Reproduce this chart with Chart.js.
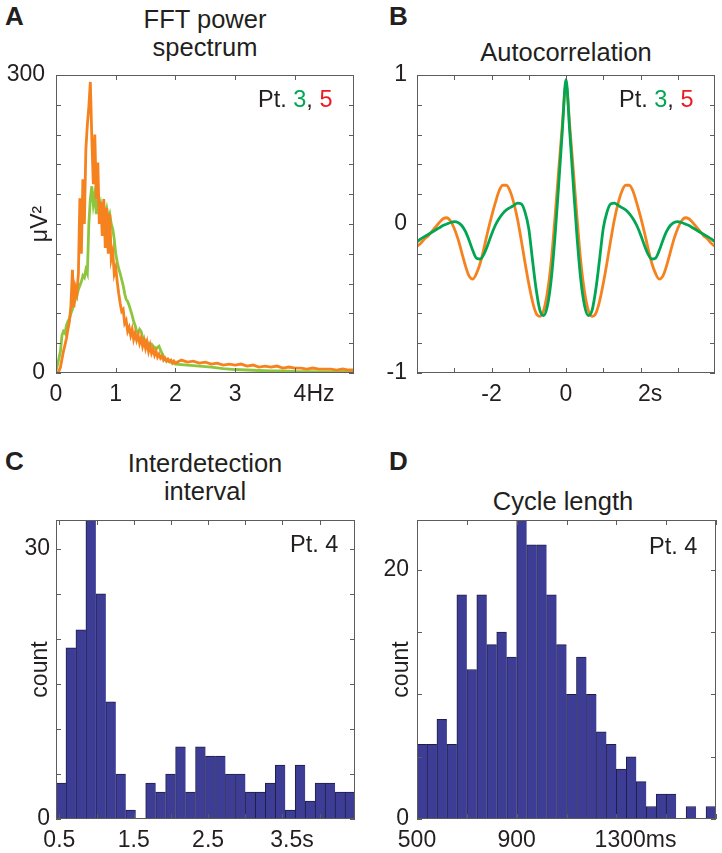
<!DOCTYPE html>
<html>
<head>
<meta charset="utf-8">
<script src="https://cdn.jsdelivr.net/npm/chart.js@4.4.1/dist/chart.umd.min.js"></script>
<style>
  body { margin: 0; background: #fff; }
  #fig { position: relative; width: 722px; height: 853px; font-family: "Liberation Sans", Arial, sans-serif; color: #231f20; overflow: hidden; }
  canvas { position: absolute; }
  .lbl { position: absolute; font-weight: bold; font-size: 26px; line-height: 26px; }
  .ttl { position: absolute; width: 400px; font-size: 25.5px; line-height: 28px; text-align: center; }
  .pt { position: absolute; font-size: 23.5px; line-height: 23.5px; white-space: nowrap; }
  .g { color: #00a651; }
  .r { color: #ed1c24; }
</style>
</head>
<body>
<div id="fig">
  <div class="lbl" style="left:5px;top:3px">A</div>
  <div class="lbl" style="left:389px;top:3px">B</div>
  <div class="lbl" style="left:5px;top:448px">C</div>
  <div class="lbl" style="left:389px;top:448px">D</div>

  <div class="ttl" style="left:5px;top:5px">FFT power<br>spectrum</div>
  <div class="ttl" style="left:366px;top:38px">Autocorrelation</div>
  <div class="ttl" style="left:5px;top:449px">Interdetection<br>interval</div>
  <div class="ttl" style="left:363px;top:487px">Cycle length</div>

  <canvas id="chartA" width="361" height="360" style="left:0;top:60px"></canvas>
  <canvas id="chartB" width="361" height="360" style="left:361px;top:60px"></canvas>
  <canvas id="chartC" width="361" height="348" style="left:0;top:505px"></canvas>
  <canvas id="chartD" width="361" height="348" style="left:361px;top:505px"></canvas>

  <div class="pt" style="left:258px;top:88px">Pt. <span class="g">3</span>, <span class="r">5</span></div>
  <div class="pt" style="left:619px;top:88px">Pt. <span class="g">3</span>, <span class="r">5</span></div>
  <div class="pt" style="left:290px;top:533px">Pt. 4</div>
  <div class="pt" style="left:649px;top:535px">Pt. 4</div>
</div>

<script>
// ─── A : FFT power spectrum (Pt. 3 green, Pt. 5 orange) ───
const freqOrangeA = [0, 0.025, 0.05, 0.075, 0.1, 0.125, 0.15, 0.175, 0.2, 0.225, 0.25, 0.275, 0.3, 0.325, 0.35, 0.375,
  0.4, 0.425, 0.45, 0.475, 0.5, 0.525, 0.55, 0.575, 0.6, 0.625, 0.65, 0.675, 0.7, 0.725, 0.75, 0.775,
  0.8, 0.825, 0.85, 0.875, 0.9, 0.925, 0.95, 0.975, 1, 1.025, 1.05, 1.075, 1.1, 1.125, 1.15, 1.175,
  1.2, 1.225, 1.25, 1.275, 1.3, 1.325, 1.35, 1.375, 1.4, 1.425, 1.45, 1.475, 1.5, 1.525, 1.55, 1.575,
  1.6, 1.625, 1.65, 1.675, 1.7, 1.725, 1.75, 1.775, 1.8, 1.825, 1.85, 1.875, 1.9, 1.925, 1.95, 1.975, 2,
  2.1, 2.2, 2.3, 2.4, 2.5, 2.6, 2.7, 2.8, 2.9, 3, 3.1, 3.2, 3.3, 3.4, 3.5, 3.6, 3.7, 3.8, 3.9, 4,
  4.1, 4.2, 4.3, 4.4, 4.5, 4.6, 4.7, 4.8, 4.9, 4.99];
const powerOrangeA = [0, 0, 2, 6, 14, 22, 28, 35, 44, 52, 68, 104, 66, 86, 80, 100,
  176, 120, 195, 150, 225, 250, 268, 293, 236, 190, 240, 175, 212, 150, 172, 138,
  175, 126, 166, 120, 160, 115, 122, 100, 106, 92, 80, 70, 62, 64, 50, 53,
  42, 46, 38, 44, 34, 40, 33, 38, 30, 35, 27, 33, 25, 31, 22, 28,
  20, 24, 18, 22, 16, 19, 15, 17, 13, 15, 12, 14, 12, 13, 10, 12, 10,
  13, 11, 12, 10, 11, 9, 10, 8, 9, 8, 9, 7, 8, 6, 7, 6, 7, 5, 6, 5,
  5, 4, 5, 4, 4, 4, 3, 4, 3, 3];

const freqGreenA = [0, 0.025, 0.05, 0.075, 0.1, 0.125, 0.15, 0.175, 0.2, 0.225, 0.25, 0.275, 0.3, 0.325, 0.35, 0.375,
  0.4, 0.425, 0.45, 0.475, 0.5, 0.525, 0.55, 0.575, 0.6, 0.625, 0.65, 0.675, 0.7, 0.725, 0.75, 0.775,
  0.8, 0.825, 0.85, 0.875, 0.9, 0.925, 0.95, 0.975, 1, 1.025, 1.05, 1.075, 1.1, 1.125, 1.15, 1.175,
  1.2, 1.225, 1.25, 1.275, 1.3, 1.325, 1.35, 1.375, 1.4, 1.425, 1.45, 1.475, 1.5, 1.525, 1.55, 1.575,
  1.6, 1.625, 1.65, 1.675, 1.7, 1.725, 1.75, 1.775, 1.8, 1.825, 1.85, 1.875, 1.9, 1.925, 1.95, 1.975, 2,
  2.2, 2.4, 2.6, 2.8, 3, 3.2, 3.4, 3.6, 3.8, 4, 4.5, 4.99];
const powerGreenA = [2, 8, 15, 22, 38, 42, 40, 48, 52, 55, 60, 64, 70, 74, 78, 84,
  88, 92, 98, 96, 104, 100, 150, 175, 188, 170, 180, 160, 172, 162, 170, 160,
  168, 158, 165, 155, 160, 150, 145, 135, 120, 112, 105, 100, 94, 88, 80, 74,
  72, 68, 63, 58, 52, 48, 42, 40, 44, 42, 36, 34, 33, 31, 30, 28,
  29, 27, 26, 24, 26, 27, 23, 20, 17, 14, 13, 12, 11, 11, 10, 10, 9,
  8, 7, 6, 4.5, 3.5, 3, 2.5, 2, 2, 1.5, 1, 1];

const xTickValsA = [0, 1, 2, 3, 4];
const xTickTextA = ['0', '1', '2', '3', '4Hz'];
const yTickValsA = [0, 30, 60, 90, 120, 150, 180, 210, 240, 270, 300];
const yTickTextA = ['0', '', '', '', '', '', '', '', '', '', '300'];

// ─── B : autocorrelation ───
const lagB = [-4, -3.9, -3.8, -3.7, -3.6, -3.5, -3.4, -3.3, -3.2, -3.1, -3, -2.9, -2.8, -2.7, -2.6, -2.5, -2.4, -2.3, -2.2, -2.1,
  -2, -1.9, -1.8, -1.7, -1.6, -1.5, -1.4, -1.3, -1.2, -1.1, -1, -0.9, -0.8, -0.7, -0.6, -0.5, -0.4, -0.3, -0.2, -0.1,
  0, 0.1, 0.2, 0.3, 0.4, 0.5, 0.6, 0.7, 0.8, 0.9, 1, 1.1, 1.2, 1.3, 1.4, 1.5, 1.6, 1.7, 1.8, 1.9,
  2, 2.1, 2.2, 2.3, 2.4, 2.5, 2.6, 2.7, 2.8, 2.9, 3, 3.1, 3.2, 3.3, 3.4, 3.5, 3.6, 3.7, 3.8, 3.9, 4];
const acorrOrangeB = [-0.15, -0.13, -0.10, -0.08, -0.05, -0.02, 0.01, 0.035, 0.042, 0.02, -0.03, -0.10, -0.19, -0.28, -0.35, -0.37, -0.33, -0.26, -0.16, -0.05,
  0.05, 0.14, 0.22, 0.26, 0.26, 0.22, 0.14, 0.03, -0.11, -0.26, -0.40, -0.52, -0.60, -0.62, -0.58, -0.46, -0.26, 0.03, 0.35, 0.66,
  0.94, 0.66, 0.35, 0.03, -0.26, -0.46, -0.58, -0.62, -0.60, -0.52, -0.40, -0.26, -0.11, 0.03, 0.14, 0.22, 0.26, 0.26, 0.22, 0.14,
  0.05, -0.05, -0.16, -0.26, -0.33, -0.37, -0.35, -0.28, -0.19, -0.10, -0.03, 0.02, 0.042, 0.035, 0.01, -0.02, -0.05, -0.08, -0.10, -0.13, -0.15];
const acorrGreenB = [-0.12, -0.10, -0.085, -0.07, -0.055, -0.04, -0.025, -0.01, 0, 0.01, 0.016, 0.01, -0.01, -0.05, -0.11, -0.18, -0.23, -0.235, -0.20, -0.14,
  -0.07, -0.01, 0.035, 0.07, 0.095, 0.11, 0.125, 0.14, 0.135, 0.08, -0.03, -0.24, -0.44, -0.58, -0.615, -0.55, -0.38, -0.10, 0.25, 0.62,
  0.97, 0.62, 0.25, -0.10, -0.38, -0.55, -0.615, -0.58, -0.44, -0.24, -0.03, 0.08, 0.135, 0.14, 0.125, 0.11, 0.095, 0.07, 0.035, -0.01,
  -0.07, -0.14, -0.20, -0.235, -0.23, -0.18, -0.11, -0.05, -0.01, 0.01, 0.016, 0.01, 0, -0.01, -0.025, -0.04, -0.055, -0.07, -0.085, -0.10, -0.12];

const xTickValsB = [-3, -2, -1, 0, 1, 2, 3];
const xTickTextB = ['', '-2', '', '0', '', '2s', ''];
const yTickValsB = [-1, -0.8, -0.6, -0.4, -0.2, 0, 0.2, 0.4, 0.6, 0.8, 1];
const yTickTextB = ['-1', '', '', '', '', '0', '', '', '', '', '1'];

// ─── C : interdetection interval histogram (Pt. 4) ───
const binCentersC = [0.522, 0.656, 0.790, 0.924, 1.058, 1.192, 1.326, 1.460, 1.594, 1.728, 1.862, 1.996, 2.130, 2.264, 2.398,
  2.532, 2.666, 2.800, 2.934, 3.068, 3.202, 3.336, 3.470, 3.604, 3.738, 3.872, 4.006, 4.140, 4.274, 4.408];
const countsC = [4, 19, 21, 36, 25, 13, 5, 1, 0, 4, 3, 5, 8, 3, 8, 7, 7, 5, 5, 3, 3, 4, 6, 1, 6, 2, 4, 4, 3, 3];
const xTickValsC = [0.5, 1, 1.5, 2, 2.5, 3, 3.5, 4];
const xTickTextC = ['0.5', '', '1.5', '', '2.5', '', '3.5s', ''];
const yTickValsC = [0, 5, 10, 15, 20, 25, 30];
const yTickTextC = ['0', '', '', '', '', '', '30'];

// ─── D : cycle length histogram (Pt. 4) ───
const binCentersD = [520, 560, 600, 640, 680, 720, 760, 800, 840, 880, 920, 960, 1000, 1040, 1080,
  1120, 1160, 1200, 1240, 1280, 1320, 1360, 1400, 1440, 1480, 1520, 1560, 1600, 1640, 1680];
const countsD = [6, 6, 8, 6, 18, 12, 18, 14, 15, 13, 25, 22, 22, 18, 14, 10, 13, 10, 7, 6, 4, 5, 3, 1, 2, 2, 0, 1, 0, 1];
const xTickValsD = [500, 700, 900, 1100, 1300, 1500, 1700];
const xTickTextD = ['500', '', '900', '', '1300ms', '', ''];
const yTickValsD = [0, 5, 10, 15, 20];
const yTickTextD = ['0', '', '', '', '20'];

// ─── style ───
const TXT = '#231f20';
const ORANGE = '#f5821f';
const GREEN_A = '#8cc63f';
const GREEN_B = '#00a651';
const BAR = '#3d3d96';
const BAR_EDGE = '#1e1e48';
const BOX = '#5c5c5c';

Chart.defaults.font.family = '"Liberation Sans", Arial, sans-serif';
Chart.defaults.font.size = 23;
Chart.defaults.color = TXT;

// number stays centred on its tick, the unit hangs to the right (like the figure)
function withUnit(t) {
  const m = t.match(/^(-?[\d.]+)([a-zA-Z]+)$/);
  return m ? ' '.repeat(m[2].length * 3) + t : t;
}

// box round the plot + inward ticks on all four sides
const boxTicks = {
  id: 'boxTicks',
  afterDatasetsDraw(chart) {
    const { ctx, chartArea: a, scales: { x, y } } = chart;
    ctx.save();
    ctx.strokeStyle = BOX;
    ctx.lineWidth = 1;
    ctx.beginPath();
    x.ticks.forEach(t => {
      const px = Math.round(x.getPixelForValue(t.value)) + 0.5;
      ctx.moveTo(px, a.bottom); ctx.lineTo(px, a.bottom - 5);
      ctx.moveTo(px, a.top); ctx.lineTo(px, a.top + 5);
    });
    y.ticks.forEach(t => {
      const py = Math.round(y.getPixelForValue(t.value)) + 0.5;
      ctx.moveTo(a.left, py); ctx.lineTo(a.left + 5, py);
      ctx.moveTo(a.right, py); ctx.lineTo(a.right - 5, py);
    });
    ctx.stroke();
    ctx.strokeRect(Math.round(a.left) + 0.5, Math.round(a.top) + 0.5, Math.round(a.width) - 1, Math.round(a.height) - 1);
    ctx.restore();
  }
};

function axis(min, max, vals, texts, pad, fit, title) {
  return {
    type: 'linear', min, max, offset: false,
    grid: { display: false, drawTicks: false },
    border: { display: false },
    afterBuildTicks: s => { s.ticks = vals.map(v => ({ value: v })); },
    afterFit: s => {
      if (s.isHorizontal()) s.height = fit; else s.width = fit;
      s.paddingLeft = s.paddingRight = s.paddingTop = s.paddingBottom = 0;
    },
    ticks: {
      autoSkip: false, maxRotation: 0, minRotation: 0, padding: pad,
      callback: v => { const i = vals.indexOf(v); return i >= 0 && texts[i] ? withUnit(texts[i]) : ''; }
    },
    title: title ? { display: true, text: title, font: { size: 23 }, padding: { top: 27, bottom: 0 } } : { display: false }
  };
}

function baseOptions(xs, ys, padRight) {
  return {
    responsive: false, animation: false, devicePixelRatio: 1,
    layout: { padding: { top: 15, right: padRight, left: 0, bottom: 0 } },
    plugins: { legend: { display: false }, tooltip: { enabled: false } },
    scales: { x: xs, y: ys }
  };
}

const pts = (xs, ys) => xs.map((x, i) => ({ x, y: ys[i] }));

// A
new Chart(document.getElementById('chartA'), {
  type: 'line',
  data: {
    datasets: [
      { data: pts(freqOrangeA, powerOrangeA), borderColor: ORANGE, borderWidth: 2.8, pointRadius: 0, tension: 0 },
      { data: pts(freqGreenA, powerGreenA), borderColor: GREEN_A, borderWidth: 2.8, pointRadius: 0, tension: 0 }
    ]
  },
  options: baseOptions(axis(0, 4.99, xTickValsA, xTickTextA, 8, 47), axis(0, 300, yTickValsA, yTickTextA, 11, 56, 'μV²'), 7),
  plugins: [boxTicks]
});

// B
new Chart(document.getElementById('chartB'), {
  type: 'line',
  data: {
    datasets: [
      { data: pts(lagB, acorrGreenB), borderColor: GREEN_B, borderWidth: 2.8, pointRadius: 0, cubicInterpolationMode: 'monotone' },
      { data: pts(lagB, acorrOrangeB), borderColor: ORANGE, borderWidth: 2.8, pointRadius: 0, cubicInterpolationMode: 'monotone' }
    ]
  },
  options: baseOptions(axis(-4, 4, xTickValsB, xTickTextB, 8, 47), axis(-1, 1, yTickValsB, yTickTextB, 10, 56), 7),
  plugins: [boxTicks]
});

const barStyle = {
  backgroundColor: BAR, borderColor: BAR_EDGE,
  borderWidth: { top: 1, left: 1, right: 0, bottom: 0 }, borderSkipped: false,
  barPercentage: 1, categoryPercentage: 1
};

// C
new Chart(document.getElementById('chartC'), {
  type: 'bar',
  data: { datasets: [{ data: pts(binCentersC, countsC), ...barStyle }] },
  options: baseOptions(axis(0.455, 4.475, xTickValsC, xTickTextC, 8, 34), axis(0, 33.2, yTickValsC, yTickTextC, 6, 56, 'count'), 6),
  plugins: [boxTicks]
});

// D
new Chart(document.getElementById('chartD'), {
  type: 'bar',
  data: { datasets: [{ data: pts(binCentersD, countsD), ...barStyle }] },
  options: baseOptions(axis(500, 1700, xTickValsD, xTickTextD, 8, 34), axis(0, 24, yTickValsD, yTickTextD, 8, 56, 'count'), 6),
  plugins: [boxTicks]
});
</script>
</body>
</html>
